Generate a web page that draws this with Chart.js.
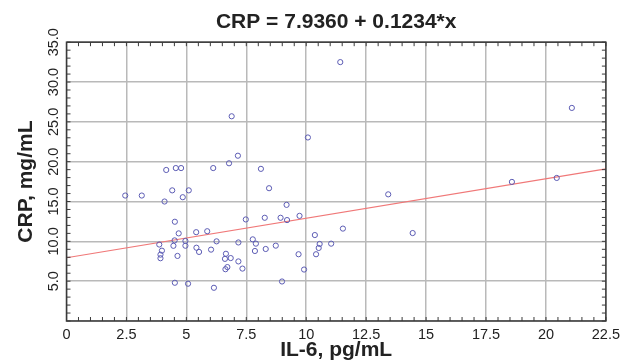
<!DOCTYPE html>
<html>
<head>
<meta charset="utf-8">
<script src="https://cdn.jsdelivr.net/npm/chart.js@4"></script>
<style>
  html, body { margin: 0; padding: 0; background: #fff; }
  #wrap { width: 625px; height: 364px; }
</style>
</head>
<body>
<div id="wrap"><canvas id="grafico" width="625" height="364"></canvas></div>
<script>
// Dados (IL-6 x CRP)
const il6 = [2.45, 3.14, 4.16, 4.56, 4.78, 6.12, 6.78, 7.15, 4.41, 5.10,
             4.09, 4.85, 4.52, 4.68, 5.41, 5.87, 3.87, 4.51, 4.96, 4.96,
             4.46, 3.98, 3.92, 3.92, 4.63, 5.42, 5.53, 6.03, 6.26, 6.65,
             6.61, 6.85, 6.63, 6.71, 7.17, 7.17, 4.52, 5.07, 6.15, 6.89,
             10.07, 8.11, 8.45, 9.18, 7.48, 8.27, 8.93, 9.20, 9.72, 11.53,
             10.36, 10.56, 10.52, 11.04, 10.41, 9.68, 9.91, 8.99, 7.77, 7.90,
             7.86, 8.31, 8.73, 7.34, 11.42, 21.08, 13.42, 18.58, 20.45, 14.44];
const crp = [15.75, 15.75, 18.96, 19.2, 19.2, 19.2, 19.8, 20.75, 16.4, 16.4,
             15.0, 15.54, 12.46, 11.0, 11.15, 11.27, 9.6, 10.12, 10.05, 9.45,
             9.44, 8.83, 8.33, 7.88, 8.17, 9.2, 8.67, 8.96, 10.0, 8.44,
             7.8, 7.9, 6.5, 6.77, 9.86, 7.48, 4.8, 4.68, 4.17, 25.7,
             23.04, 19.1, 16.67, 14.58, 12.75, 12.96, 12.96, 12.67, 13.2, 11.6,
             10.79, 9.67, 9.17, 9.71, 8.38, 8.38, 6.46, 4.96, 10.25, 9.71,
             8.79, 9.04, 9.46, 6.58, 32.5, 26.75, 15.9, 17.46, 17.96, 11.04];

// Reta de ajuste (extremos)
const ajusteX = [0, 22.5];
const ajusteY = [7.94, 19.1];

// Marcas dos eixos
const ticksX = [0, 2.5, 5, 7.5, 10, 12.5, 15, 17.5, 20, 22.5];
const ticksY = [0, 5, 10, 15, 20, 25, 30, 35];

const titulo = "CRP = 7.9360 + 0.1234*x";
const tituloX = "IL-6, pg/mL";
const tituloY = "CRP, mg/mL";

const fonte = "'Liberation Sans', Arial, sans-serif";

// Moldura com marcas menores para dentro
const moldura = {
    id: 'moldura',
    afterDraw(chart) {
        const { ctx, chartArea: a, scales: { x, y } } = chart;
        ctx.save();
        ctx.strokeStyle = '#3a3a3a';
        ctx.lineWidth = 1.5;
        ctx.strokeRect(a.left, a.top, a.right - a.left, a.bottom - a.top);
        ctx.lineWidth = 1;
        ctx.beginPath();
        for (let v = 0; v <= 22.5 + 1e-9; v += 0.5) {
            const px = x.getPixelForValue(v);
            ctx.moveTo(px, a.top); ctx.lineTo(px, a.top + 4);
            ctx.moveTo(px, a.bottom); ctx.lineTo(px, a.bottom - 4);
        }
        for (let v = 0; v <= 35; v += 1) {
            const py = y.getPixelForValue(v);
            ctx.moveTo(a.left, py); ctx.lineTo(a.left + 4, py);
            ctx.moveTo(a.right, py); ctx.lineTo(a.right - 4, py);
        }
        ctx.stroke();
        ctx.restore();
    }
};

const ctx = document.getElementById("grafico").getContext("2d");

new Chart(ctx, {
    type: 'scatter',
    data: {
        datasets: [
            {
                label: "Ajuste",
                type: 'line',
                data: ajusteX.map((x, i) => ({ x, y: ajusteY[i] })),
                borderColor: '#f07878',
                borderWidth: 1.2,
                pointRadius: 0,
                fill: false,
                order: 2
            },
            {
                label: "Pontos",
                data: il6.map((x, i) => ({ x, y: crp[i] })),
                borderColor: '#5c5cb4',
                backgroundColor: 'rgba(255,255,255,0)',
                borderWidth: 1,
                pointRadius: 2.6,
                order: 1
            }
        ]
    },
    options: {
        responsive: false,
        animation: false,
        layout: { padding: { left: 0, right: 15, top: 0, bottom: 0 } },
        plugins: {
            legend: { display: false },
            tooltip: { enabled: false },
            title: {
                display: true,
                text: titulo,
                fullSize: false,
                color: '#222',
                font: { family: fonte, size: 21, weight: 'bold' },
                padding: { top: 10, bottom: 7 }
            }
        },
        scales: {
            x: {
                type: 'linear',
                min: 0,
                max: 22.5,
                afterBuildTicks: s => { s.ticks = ticksX.map(v => ({ value: v })); },
                afterFit: s => { s.height = 43; },
                border: { display: false },
                grid: { color: '#b9b9b9', lineWidth: 1.5, drawTicks: false },
                ticks: {
                    autoSkip: false,
                    maxRotation: 0,
                    padding: 5,
                    color: '#222',
                    font: { family: fonte, size: 14.5 },
                    callback: v => String(v)
                },
                title: {
                    display: true,
                    text: tituloX,
                    color: '#222',
                    font: { family: fonte, size: 21, weight: 'bold' },
                    padding: { top: 0, bottom: 1 }
                }
            },
            y: {
                type: 'linear',
                min: 0,
                max: 35,
                afterBuildTicks: s => { s.ticks = ticksY.map(v => ({ value: v })); },
                afterFit: s => { s.width = 66.5; },
                border: { display: false },
                grid: { color: '#b9b9b9', lineWidth: 1.5, drawTicks: false },
                ticks: {
                    minRotation: 90,
                    maxRotation: 90,
                    crossAlign: 'center',
                    padding: -2,
                    color: '#222',
                    font: { family: fonte, size: 14.5 },
                    callback: v => v === 0 ? '' : v.toFixed(1)
                },
                title: {
                    display: true,
                    text: tituloY,
                    color: '#222',
                    font: { family: fonte, size: 21, weight: 'bold' },
                    padding: { top: 14, bottom: 0 }
                }
            }
        }
    },
    plugins: [moldura]
});
</script>
</body>
</html>
